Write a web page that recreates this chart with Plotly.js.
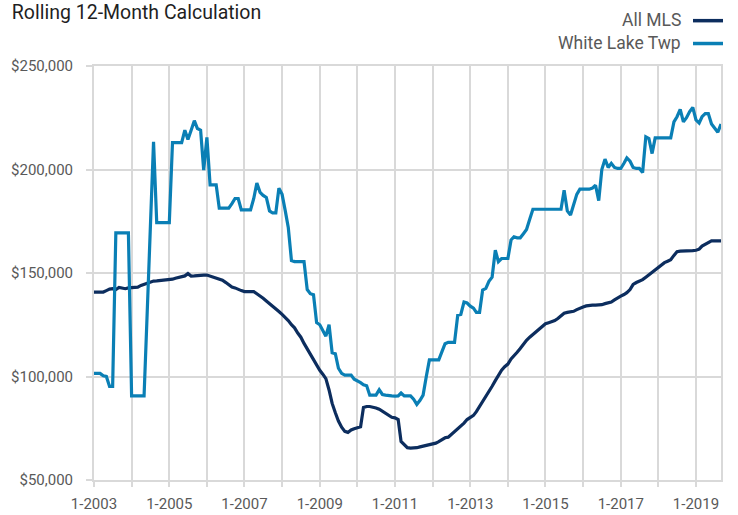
<!DOCTYPE html>
<html>
<head>
<meta charset="utf-8">
<script src="https://cdn.plot.ly/plotly-3.0.1.min.js"></script>
<style>html,body{margin:0;padding:0;background:#fff;}#chart{width:738px;height:515px;}</style>
</head>
<body>
<div id="chart"></div>
<script>
// Monthly values, Jan 2003 .. Sep 2019 (one row per year)
const whiteLakeTwp = [
  101500,101500,101500,100300,100000,95200,95200,169400,169400,169400,169400,169400,
  90600,90600,90600,90600,90600,131500,172400,213400,174300,174300,174300,174300,
  174300,213000,213000,213000,213000,219000,214500,219000,223600,219800,219000,199700,
  215500,192600,192600,192600,181300,181300,181300,181300,183500,186000,186000,180500,
  180500,180500,180500,186000,193500,189000,187500,186500,180000,179000,179000,191000,
  188000,180000,172000,156000,155500,155500,155500,155500,142000,140000,139500,126000,
  125000,122000,119500,125000,111500,111000,104000,101500,100700,100700,100700,98700,
  98000,97000,96000,95500,91000,91000,91000,93600,91300,91000,90600,90600,
  90500,90600,92000,90600,90600,90600,89000,86500,88500,91000,100000,108000,
  108000,108000,108000,112000,115800,116500,116500,116500,129600,130000,136000,135500,
  134000,133000,131000,131000,141800,142600,146000,148000,161000,155500,157000,157000,
  157000,166000,167500,167000,167000,169000,171000,176000,180800,180800,180800,180800,
  180800,180800,180800,180800,180800,180800,190000,180000,178000,183000,188000,190500,
  190500,190500,190500,191000,192400,185000,200000,205000,201000,203000,201000,200500,
  200500,203000,205600,204000,201000,200500,200500,198500,215800,215000,207700,215300,
  215300,215300,215300,215300,215300,223000,225500,229000,223000,225000,228000,230000,
  224000,222500,225500,227000,227000,222000,220000,218000,222000
];
const allMLS = [
  140800,140800,140800,140800,141500,142200,142400,142000,143000,142800,142400,142800,
  143000,143000,143200,144000,144500,145000,145600,146100,146200,146300,146400,146500,
  146700,147000,147500,148000,148300,148600,149700,148500,148600,148800,149000,149000,
  149000,148500,147900,147500,147300,146500,145500,144500,143200,142800,142000,141500,
  141000,141000,141000,141000,140000,139000,137800,136500,135300,134000,132700,131400,
  130000,128500,127000,125000,123500,121000,119000,116000,113300,110500,107800,105500,
  103000,101000,99000,93500,87000,82500,78500,75500,73500,73000,74200,74800,
  75200,75700,85000,85500,85500,85300,84800,84200,83300,82000,81200,80300,
  80000,79200,68600,67000,65600,65400,65400,65600,66000,66300,66500,66800,
  67200,67800,68500,69500,70400,70700,72000,73500,75000,76200,77500,79200,
  80200,81200,83000,85400,88000,90600,93000,95300,98000,100500,103000,104700,
  106000,108500,110300,111700,113500,115800,117500,119000,120300,121500,122800,124300,
  125500,126000,126300,127000,128000,129500,130600,131000,131200,131500,132300,133100,
  133600,134100,134400,134500,134500,134600,134700,135200,135600,136000,137000,138000,
  138800,139600,140500,142000,144500,145400,146000,146800,148000,149200,150300,151400,
  152600,154000,155000,155700,156400,158500,160300,160600,160600,160600,160800,160800,
  161000,161500,163000,163800,165000,165500,165500,165500,165500
];
const startYear = 2003;
const tickYears = [2003,2004,2005,2006,2007,2008,2009,2010,2011,2012,2013,2014,2015,2016,2017,2018,2019];
const tickLabels = ['1-2003','','1-2005','','1-2007','','1-2009','','1-2011','','1-2013','','1-2015','','1-2017','','1-2019'];
const yTicks = [50000,100000,150000,200000,250000];
const seriesNames = ['All MLS','White Lake Twp'];
const seriesColors = ['#0c2d5e','#0a7fb5'];

const months = allMLS.map((_, i) => {
  const y = startYear + Math.floor(i / 12);
  const m = (i % 12) + 1;
  return y + '-' + String(m).padStart(2, '0') + '-01';
});
const tickDates = tickYears.map(y => y + '-01-01');

const FONT = "Roboto, 'Liberation Sans', sans-serif";
const grid = '#d9d9d9';

const traces = [allMLS, whiteLakeTwp].map((vals, i) => ({
  x: months, y: vals, name: seriesNames[i], type: 'scatter', mode: 'lines',
  line: {color: seriesColors[i], width: 3.2}, showlegend: false
}));

// Legend drawn at top right: text right-aligned, line sample to its right
const legendTextY = [1.111, 1.0556];
const legendLineY = [1.1095, 1.0543];
const annotations = seriesNames.map((n, i) => ({
  text: n, xref: 'paper', yref: 'paper', x: 0.939, y: legendTextY[i],
  xanchor: 'right', yanchor: 'middle', showarrow: false,
  font: {family: FONT, size: 17.5, color: '#595959'}
}));
const shapes = seriesNames.map((n, i) => ({
  type: 'line', xref: 'paper', yref: 'paper', x0: 0.9553, x1: 1.0032,
  y0: legendLineY[i], y1: legendLineY[i], line: {color: seriesColors[i], width: 3.5}
}));

const layout = {
  width: 738, height: 515,
  margin: {l: 94, r: 17, t: 66, b: 35},
  paper_bgcolor: '#fff', plot_bgcolor: '#fff',
  font: {family: FONT, color: '#595959', size: 15},
  title: {text: 'Rolling 12-Month Calculation', font: {family: FONT, size: 19.5, color: '#1f1f1f'},
          xref: 'container', x: 0.016, xanchor: 'left', yref: 'container', y: 0.977, yanchor: 'middle'},
  xaxis: {type: 'date', range: [months[0], months[months.length - 1]],
          tickvals: tickDates, ticktext: tickLabels, showgrid: true, gridcolor: grid, gridwidth: 2,
          showline: true, linecolor: grid, linewidth: 2, mirror: true,
          ticks: 'outside', ticklen: 5, tickcolor: grid, tickwidth: 2, ticklabelstandoff: 4,
          tickfont: {family: FONT, size: 15, color: '#595959'}, zeroline: false, fixedrange: true},
  yaxis: {range: [50000, 250000], tickvals: yTicks, tickformat: '$,.0f',
          showgrid: true, gridcolor: grid, gridwidth: 2,
          showline: true, linecolor: grid, linewidth: 2, mirror: true,
          ticks: 'outside', ticklen: 6, tickcolor: grid, tickwidth: 2, ticklabelstandoff: 10,
          tickfont: {family: FONT, size: 15, color: '#595959'}, zeroline: false, fixedrange: true},
  annotations: annotations,
  shapes: shapes,
  showlegend: false
};

Plotly.newPlot('chart', traces, layout, {displayModeBar: false, staticPlot: true});
</script>
</body>
</html>
